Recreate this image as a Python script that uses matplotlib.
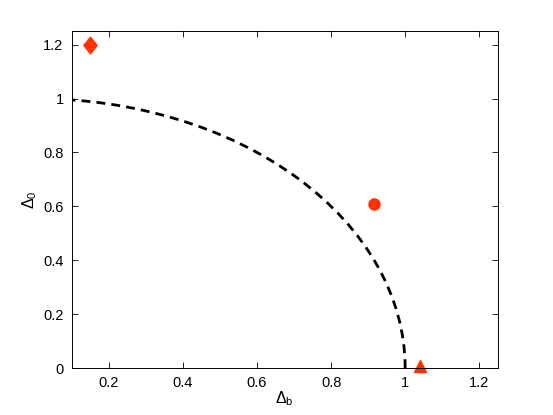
import matplotlib
matplotlib.use('Agg')
import matplotlib.pyplot as plt
from matplotlib.patches import Arc

plt.rcParams['font.family'] = ['Liberation Sans', 'DejaVu Sans']
plt.rcParams['mathtext.default'] = 'regular'

# measured points
diamond_x = [0.15]
diamond_y = [1.2]
circle_x = [0.915]
circle_y = [0.61]
triangle_x = [1.04]
triangle_y = [0.007]

# dashed boundary: unit circle
boundary_radius = 1.0

xticks = [0.2, 0.4, 0.6, 0.8, 1.0, 1.2]
xticklabels = ['0.2', '0.4', '0.6', '0.8', '1', '1.2']
yticks = [0, 0.2, 0.4, 0.6, 0.8, 1.0, 1.2]
yticklabels = ['0', '0.2', '0.4', '0.6', '0.8', '1', '1.2']

red = '#ff3300'
# slightly tall diamond like matlab's 'd'
diamond = [(0, 1), (0.8, 0), (0, -1), (-0.8, 0), (0, 1)]

fig = plt.figure(figsize=(5.53, 4.15), dpi=100)
ax = fig.add_axes([0.13, 0.113, 0.77, 0.812])

arc = Arc((0, 0), 2 * boundary_radius, 2 * boundary_radius, theta1=0, theta2=90,
          color='black', linewidth=2, linestyle=(0, (3.2, 2.2)))
ax.add_patch(arc)

ax.plot(diamond_x, diamond_y, marker=diamond, linestyle='none', color=red,
        markersize=12, clip_on=False)
ax.plot(circle_x, circle_y, 'o', color=red, markersize=8, clip_on=False)
ax.plot(triangle_x, triangle_y, '^', color=red, markersize=9, clip_on=False)

ax.set_xlim(0.1, 1.25)
ax.set_ylim(0, 1.25)
ax.set_xticks(xticks)
ax.set_xticklabels(xticklabels)
ax.set_yticks(yticks)
ax.set_yticklabels(yticklabels)
ax.tick_params(direction='in', top=True, right=True, length=4, width=0.6,
               labelsize=10.5, pad=6)
for s in ax.spines.values():
    s.set_linewidth(0.7)

ax.set_xlabel(r'$\Delta_b$', fontsize=11.5, labelpad=-1)
ax.set_ylabel(r'$\Delta_0$', fontsize=11.5, labelpad=3)

fig.savefig('out.png', dpi=100)
